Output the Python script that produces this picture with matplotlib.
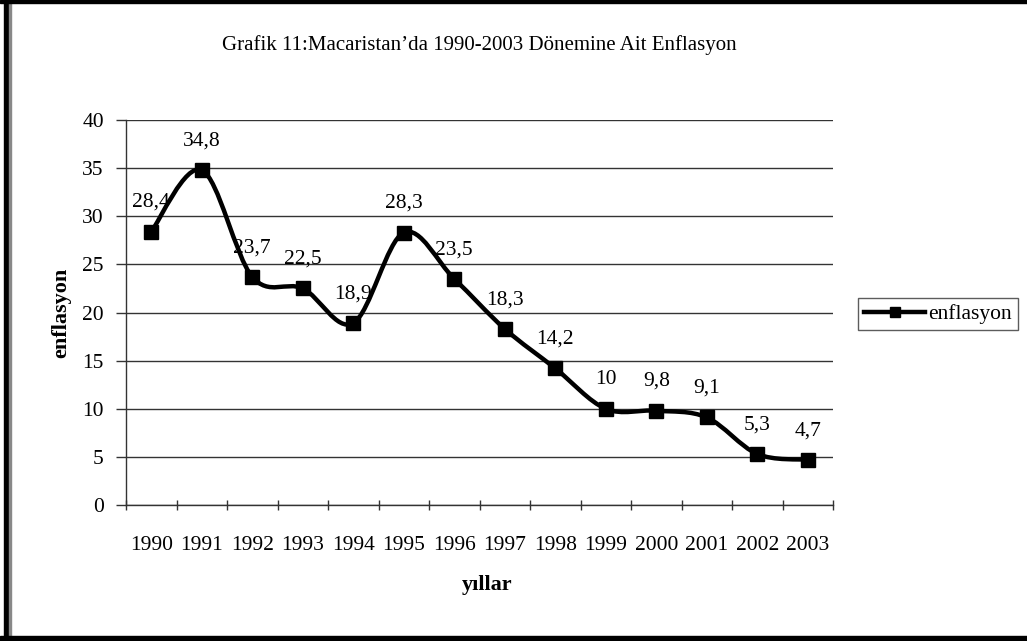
import matplotlib
matplotlib.use("Agg")
import matplotlib.pyplot as plt
from matplotlib.path import Path
from matplotlib.patches import PathPatch, Rectangle
from matplotlib.lines import Line2D
import numpy as np

years = ["1990", "1991", "1992", "1993", "1994", "1995", "1996",
         "1997", "1998", "1999", "2000", "2001", "2002", "2003"]
inflation = [28.4, 34.8, 23.7, 22.5, 18.9, 28.3, 23.5,
             18.3, 14.2, 10, 9.8, 9.1, 5.3, 4.7]
value_labels = ["28,4", "34,8", "23,7", "22,5", "18,9", "28,3", "23,5",
                "18,3", "14,2", "10", "9,8", "9,1", "5,3", "4,7"]

plt.rcParams['font.family'] = ['Liberation Serif', 'DejaVu Serif']

FS = 15.5

fig = plt.figure(figsize=(10.27, 6.41), dpi=100)
ax = fig.add_axes([126/1027, 1 - 505/641, (833-126)/1027, (505-120)/641])

x = np.arange(len(years))
y = np.array(inflation, dtype=float)

# Smoothed line (Catmull-Rom rendered as cubic Bezier segments)
verts = [(x[0], y[0])]
codes = [Path.MOVETO]
n = len(x)
for i in range(n - 1):
    p0 = np.array([x[max(i-1, 0)], y[max(i-1, 0)]])
    p1 = np.array([x[i], y[i]])
    p2 = np.array([x[i+1], y[i+1]])
    p3 = np.array([x[min(i+2, n-1)], y[min(i+2, n-1)]])
    c1 = p1 + (p2 - p0) / 6.0
    c2 = p2 - (p3 - p1) / 6.0
    verts += [tuple(c1), tuple(c2), tuple(p2)]
    codes += [Path.CURVE4, Path.CURVE4, Path.CURVE4]
ax.add_patch(PathPatch(Path(verts, codes), facecolor='none', edgecolor='black',
                       lw=3.2, capstyle='round', joinstyle='round', zorder=3))
ax.plot(x, y, linestyle='none', marker='s', markersize=10, color='black', zorder=4)

for xi, yi, lab in zip(x, y, value_labels):
    ax.annotate(lab, (xi, yi), xytext=(0, 21), textcoords='offset points',
                ha='center', va='center', fontsize=FS)

ax.set_xlim(-0.5, n - 0.5)
ax.set_ylim(0, 40)
ax.set_yticks(np.arange(0, 41, 5))
ax.yaxis.grid(True, color='#333333', lw=1.0)
ax.set_axisbelow(True)
ax.set_xticks(np.arange(-0.5, n, 1.0))
ax.set_xticklabels([])
ax.set_xticks(x, minor=True)
ax.set_xticklabels(years, minor=True, fontsize=FS)
ax.tick_params(axis='x', which='minor', length=0, pad=22)
ax.tick_params(axis='x', which='major', length=7, width=1, direction='inout', color='#333333')
ax.tick_params(axis='y', length=7, width=1, direction='out', labelsize=FS, pad=9, color='#333333')
for s in ['top', 'right']:
    ax.spines[s].set_visible(False)
for s in ['left', 'bottom']:
    ax.spines[s].set_color('#333333')
    ax.spines[s].set_linewidth(1.0)

ax.set_xlabel("yıllar", fontsize=16, fontweight='bold', labelpad=14)
ax.set_ylabel("enflasyon", fontsize=16, fontweight='bold', labelpad=8)
ax.xaxis.set_label_coords(487/1027, 1 - 585/641, transform=fig.transFigure)
ax.xaxis.label.set_va('center')

fig.text(479/1027, 1 - 45/641, "Grafik 11:Macaristan’da 1990-2003 Dönemine Ait Enflasyon",
         ha='center', va='center', fontsize=15)

handle = Line2D([], [], color='black', lw=3.2, marker='s', markersize=7)
leg = fig.legend([handle], ["enflasyon"], loc='center left',
                 bbox_to_anchor=(858/1027, 1 - 314/641), fontsize=FS,
                 frameon=True, fancybox=False, edgecolor='#333333',
                 handlelength=2.8, handletextpad=0.15, borderpad=0.3,
                 borderaxespad=0)
leg.get_frame().set_linewidth(1.0)

# figure border
fig.patches.append(Rectangle((4/1027, 0), 4/1027, 1, transform=fig.transFigure,
                             color='black', zorder=10))
fig.patches.append(Rectangle((9/1027, 0), 1.5/1027, 1, transform=fig.transFigure,
                             color='#888888', zorder=10))
fig.patches.append(Rectangle((0, 1 - 3/641), 1, 3/641, transform=fig.transFigure,
                             color='black', zorder=10))
fig.patches.append(Rectangle((0, 0), 1, 5/641, transform=fig.transFigure,
                             color='black', zorder=10))

fig.savefig("out.png", dpi=100)
